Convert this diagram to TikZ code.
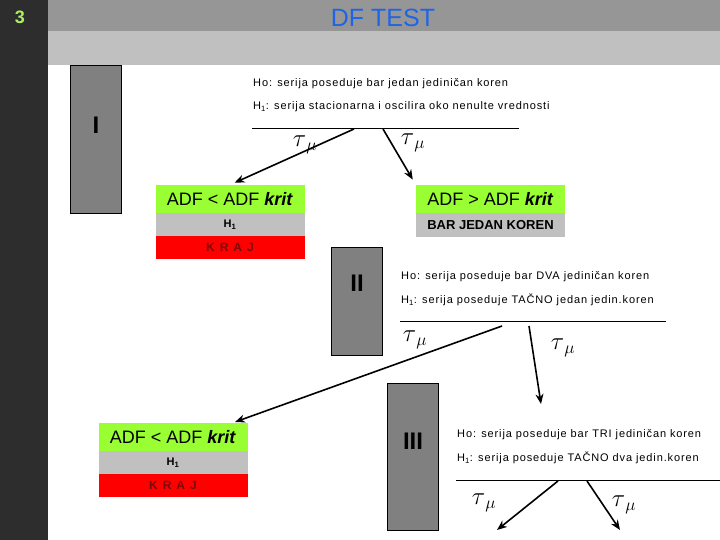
\documentclass[tikz,border=0pt]{standalone}
\usepackage{fontspec}
\setmainfont{Liberation Sans}
\newfontfamily\hypfont[LetterSpace=8]{Liberation Sans}
\usetikzlibrary{arrows.meta, positioning, calc}
\definecolor{darkbar}{RGB}{45,45,45}
\definecolor{headgrey}{RGB}{150,150,150}
\definecolor{bandgrey}{RGB}{192,192,192}
\definecolor{stagegrey}{RGB}{128,128,128}
\definecolor{adfgreen}{RGB}{153,255,51}
\definecolor{cellgrey}{RGB}{192,192,192}
\definecolor{krajred}{RGB}{255,0,0}
\definecolor{krajtext}{RGB}{120,10,10}
\definecolor{titleblue}{RGB}{30,100,230}
\definecolor{numgreen}{RGB}{175,240,90}

\begin{document}
\begin{tikzpicture}[x=1pt, y=-1pt,
  stagebox/.style={draw=black, fill=stagegrey, line width=0.8pt, minimum width=51pt, inner sep=0pt},
  stagelbl/.style={font=\bfseries\fontsize{24}{24}\selectfont},
  hyp/.style={anchor=west, inner sep=0pt, font=\hypfont\fontsize{11}{11}\selectfont},
  cell/.style={minimum width=149pt, minimum height=#1, inner sep=0pt},
  tau/.style={inner sep=0pt, font=\fontsize{24}{24}\selectfont},
  arr/.style={-{Stealth[length=10pt,width=8pt]}, line width=1.6pt}]
  \useasboundingbox (0,0) rectangle (720,540);
  \fill[darkbar] (0,0) rectangle (48,540);
  \fill[headgrey] (48,0) rectangle (720,31);
  \fill[bandgrey] (48,31) rectangle (720,65);
  \node[text=numgreen, font=\bfseries\fontsize{18}{18}\selectfont] (num) at (20,17) {3};
  \node[text=titleblue, font=\fontsize{25}{25}\selectfont] (title) at (383,18) {DF TEST};

  % stage I
  \node[stagebox, minimum height=148pt] (boxI) at (96,139) {};
  \node[stagelbl] (lblI) at (96,125) {I};
  \node[hyp] (hoI) at (253,84) {Ho: serija poseduje bar jedan jediničan koren};
  \node[hyp] (hiI) at (253,107) {H\textsubscript{1}: serija stacionarna i oscilira oko nenulte vrednosti};
  \coordinate (lineIa) at (252,128);
  \coordinate (lineIb) at (519,128);
  \draw[line width=0.8pt] (lineIa) -- (lineIb);
  \coordinate (forkIa) at (354,129);
  \coordinate (forkIb) at (383,129);
  \node[fill=adfgreen, cell=28pt, font=\fontsize{18}{18}\selectfont] (accI) at (230,199) {ADF < ADF \textbf{\textit{krit}}};
  \node[fill=cellgrey, cell=23pt, font=\bfseries\fontsize{11}{11}\selectfont] (hI) at (230,224.5) {H\textsubscript{1}};
  \node[fill=krajred, cell=23pt, text=krajtext, font=\bfseries\fontsize{12}{12}\selectfont] (endI) at (230,247.5) {K\hspace{5pt}R\hspace{5pt}A\hspace{5pt}J};
  \node[fill=adfgreen, cell=28pt, font=\fontsize{18}{18}\selectfont] (rejI) at (490.5,199) {ADF > ADF \textbf{\textit{krit}}};
  \node[fill=cellgrey, cell=24pt, font=\bfseries\fontsize{13}{13}\selectfont] (barI) at (490.5,225) {BAR JEDAN KOREN};
  \draw[arr, shorten >=5pt] (forkIa) -- (accI.north);
  \draw[arr, shorten >=6pt] (forkIb) -- (rejI.north west);
  \node[tau] (tauIa) at (305,145) {$\tau_{\,\mu}$};
  \node[tau] (tauIb) at (413,143) {$\tau_{\,\mu}$};

  % stage II
  \node[stagebox, minimum height=108pt] (boxII) at (357,301) {};
  \node[stagelbl] (lblII) at (357,283) {II};
  \node[hyp] (hoII) at (401,277) {Ho: serija poseduje bar DVA jediničan koren};
  \node[hyp] (hiII) at (401,300) {H\textsubscript{1}: serija poseduje TAČNO jedan jedin.koren};
  \coordinate (lineIIa) at (400,321);
  \coordinate (lineIIb) at (666,321);
  \draw[line width=0.8pt] (lineIIa) -- (lineIIb);
  \coordinate (forkIIa) at (502,326);
  \coordinate (forkIIb) at (529,326);
  \coordinate (tipIIa) at (235,422);
  \coordinate (tipIIb) at (541,404);
  \draw[arr] (forkIIa) -- (tipIIa);
  \draw[arr] (forkIIb) -- (tipIIb);
  \node[tau] (tauIIa) at (415,340) {$\tau_{\,\mu}$};
  \node[tau] (tauIIb) at (563,348) {$\tau_{\,\mu}$};

  % stage III
  \node[fill=adfgreen, cell=28pt, font=\fontsize{18}{18}\selectfont] (accIII) at (173,437) {ADF < ADF \textbf{\textit{krit}}};
  \node[fill=cellgrey, cell=23pt, font=\bfseries\fontsize{11}{11}\selectfont] (hIII) at (173,462.5) {H\textsubscript{1}};
  \node[fill=krajred, cell=23pt, text=krajtext, font=\bfseries\fontsize{12}{12}\selectfont] (endIII) at (173,485.5) {K\hspace{5pt}R\hspace{5pt}A\hspace{5pt}J};
  \node[stagebox, minimum height=147pt] (boxIII) at (413,457) {};
  \node[stagelbl] (lblIII) at (413,441) {III};
  \node[hyp] (hoIII) at (457,435) {Ho: serija poseduje bar TRI jediničan koren};
  \node[hyp] (hiIII) at (457,458) {H\textsubscript{1}: serija poseduje TAČNO dva jedin.koren};
  \coordinate (lineIIIa) at (456,480);
  \coordinate (lineIIIb) at (720,480);
  \draw[line width=0.8pt] (lineIIIa) -- (lineIIIb);
  \coordinate (forkIIIa) at (558,481);
  \coordinate (forkIIIb) at (587,481);
  \coordinate (tipIIIa) at (497,530);
  \coordinate (tipIIIb) at (620,530);
  \draw[arr] (forkIIIa) -- (tipIIIa);
  \draw[arr] (forkIIIb) -- (tipIIIb);
  \node[tau] (tauIIIa) at (484,503) {$\tau_{\,\mu}$};
  \node[tau] (tauIIIb) at (624,505) {$\tau_{\,\mu}$};
\end{tikzpicture}
\end{document}
